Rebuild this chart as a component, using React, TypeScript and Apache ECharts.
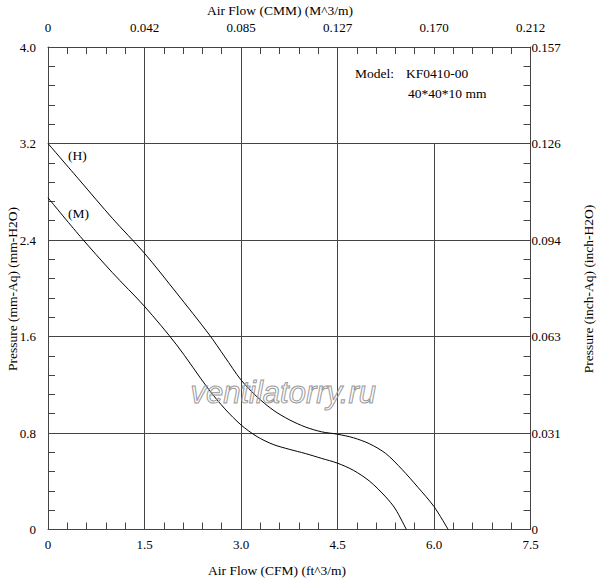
import React, { useEffect, useRef } from "react";
import * as echarts from "echarts";

const cfmTicks = [0, 1.5, 3.0, 4.5, 6.0, 7.5];
const cmmLabels = ["0", "0.042", "0.085", "0.127", "0.170", "0.212"];
const mmTicks = [0, 0.8, 1.6, 2.4, 3.2, 4.0];
const inchLabels = ["0", "0.031", "0.063", "0.094", "0.126", "0.157"];

const hFlow = [0, 0.5, 1.0, 1.5, 2.0, 2.5, 2.75, 3.0, 3.25, 3.5, 3.75, 4.0, 4.25, 4.5, 4.75, 5.0, 5.25, 5.5, 5.75, 6.0, 6.22];
const hPress = [3.2, 2.89, 2.58, 2.29, 1.96, 1.62, 1.43, 1.24, 1.1, 0.99, 0.91, 0.85, 0.81, 0.79, 0.76, 0.71, 0.63, 0.5, 0.35, 0.19, 0];
const mFlow = [0, 0.5, 1.0, 1.5, 2.0, 2.5, 2.75, 3.0, 3.25, 3.5, 3.75, 4.0, 4.25, 4.5, 4.75, 5.0, 5.25, 5.4, 5.57];
const mPress = [2.75, 2.43, 2.13, 1.85, 1.53, 1.16, 1.0, 0.867, 0.77, 0.705, 0.665, 0.63, 0.59, 0.55, 0.49, 0.4, 0.27, 0.17, 0];

const FONT = "'Liberation Serif', 'Times New Roman', serif";
const GRID_COLOR = "#444";

export default function App() {
  const ref = useRef<HTMLDivElement>(null);
  useEffect(() => {
    if (!ref.current) return;
    const chart = echarts.init(ref.current, undefined, { renderer: "svg" });
    const gridLines: any[] = [];
    [1.5, 3.0, 4.5].forEach((x) => gridLines.push([{ coord: [x, 0] }, { coord: [x, 4] }]));
    gridLines.push([{ coord: [6.0, 0] }, { coord: [6.0, 3.2] }]);

    const axisCommon = {
      type: "value" as const,
      axisLine: { show: true, onZero: false, lineStyle: { color: GRID_COLOR } },
      axisTick: { show: true, inside: true, length: 7 },
      minorTick: { show: true, splitNumber: 5, length: 7 },
    };
    const labelStyle = { fontFamily: FONT, fontSize: 13, color: "#000" };

    chart.setOption({
      animation: false,
      backgroundColor: "#fff",
      grid: { left: 48, right: 69.5, top: 47, bottom: 50.5, containLabel: false, outerBoundsMode: "none" },
      xAxis: [
        {
          ...axisCommon,
          position: "bottom",
          min: 0,
          max: 7.5,
          interval: 1.5,
          splitLine: { show: false },
          axisLabel: {
            ...labelStyle,
            margin: 8,
            formatter: (v: number) => {
              const i = cfmTicks.findIndex((t) => Math.abs(t - v) < 1e-6);
              return i === 0 ? "0" : cfmTicks[i].toFixed(1);
            },
          },
        },
        {
          ...axisCommon,
          position: "top",
          min: 0,
          max: 7.5,
          interval: 1.5,
          splitLine: { show: false },
          axisLabel: {
            ...labelStyle,
            margin: 13,
            formatter: (v: number) => cmmLabels[Math.round(v / 1.5)],
          },
        },
      ],
      yAxis: [
        {
          ...axisCommon,
          position: "left",
          min: 0,
          max: 4.0,
          interval: 0.8,
          splitLine: { show: true, lineStyle: { color: GRID_COLOR, width: 1 } },
          axisLabel: {
            ...labelStyle,
            margin: 12,
            formatter: (v: number) => {
              const i = mmTicks.findIndex((t) => Math.abs(t - v) < 1e-6);
              return i === 0 ? "0" : mmTicks[i].toFixed(1);
            },
          },
        },
        {
          ...axisCommon,
          position: "right",
          min: 0,
          max: 4.0,
          interval: 0.8,
          splitLine: { show: false },
          axisLabel: {
            ...labelStyle,
            margin: 1,
            formatter: (v: number) => inchLabels[Math.round(v / 0.8)],
          },
        },
      ],
      series: [
        {
          type: "line",
          name: "H",
          xAxisIndex: 0,
          yAxisIndex: 0,
          data: hFlow.map((x, i) => [x, hPress[i]]),
          smooth: 0.3,
          symbol: "none",
          lineStyle: { color: "#000", width: 1 },
          z: 3,
          markLine: {
            silent: true,
            symbol: "none",
            label: { show: false },
            lineStyle: { color: GRID_COLOR, width: 1, type: "solid" },
            data: gridLines,
            z: 1,
          },
        },
        {
          type: "line",
          name: "M",
          xAxisIndex: 0,
          yAxisIndex: 0,
          data: mFlow.map((x, i) => [x, mPress[i]]),
          smooth: 0.3,
          symbol: "none",
          lineStyle: { color: "#000", width: 1 },
          z: 3,
        },
      ],
      graphic: [
        {
          type: "text",
          x: 280,
          y: 10,
          style: { text: "Air Flow (CMM) (M^3/m)", font: `13.5px ${FONT}`, fill: "#000", align: "center", verticalAlign: "middle" },
        },
        {
          type: "text",
          x: 277,
          y: 570,
          style: { text: "Air Flow (CFM) (ft^3/m)", font: `13.5px ${FONT}`, fill: "#000", align: "center", verticalAlign: "middle" },
        },
        {
          type: "text",
          x: 12,
          y: 289,
          rotation: Math.PI / 2,
          style: { text: "Pressure (mm-Aq) (mm-H2O)", font: `13.5px ${FONT}`, fill: "#000", align: "center", verticalAlign: "middle" },
        },
        {
          type: "text",
          x: 588,
          y: 289,
          rotation: Math.PI / 2,
          style: { text: "Pressure (inch-Aq) (inch-H2O)", font: `13.5px ${FONT}`, fill: "#000", align: "center", verticalAlign: "middle" },
        },
        { type: "text", left: 68, top: 148, style: { text: "(H)", font: `13.5px ${FONT}`, fill: "#000" } },
        { type: "text", left: 68, top: 206, style: { text: "(M)", font: `13.5px ${FONT}`, fill: "#000" } },
        { type: "text", left: 355, top: 66, style: { text: "Model:", font: `13.5px ${FONT}`, fill: "#000" } },
        { type: "text", left: 406, top: 66, style: { text: "KF0410-00", font: `13.5px ${FONT}`, fill: "#000" } },
        { type: "text", left: 408, top: 86, style: { text: "40*40*10 mm", font: `13.5px ${FONT}`, fill: "#000" } },
        {
          type: "text",
          left: 190,
          top: 376,
          z: 10,
          style: {
            text: "ventilatorry.ru",
            font: "italic 31px 'Liberation Sans', Arial, sans-serif",
            fill: "rgba(255,255,255,0)",
            stroke: "#999",
            lineWidth: 1,
          },
        },
      ],
    });
    return () => chart.dispose();
  }, []);
  return (
    <div
      ref={ref}
      style={{ position: "fixed", left: 0, top: 0, width: 600, height: 580, background: "#fff" }}
    />
  );
}
